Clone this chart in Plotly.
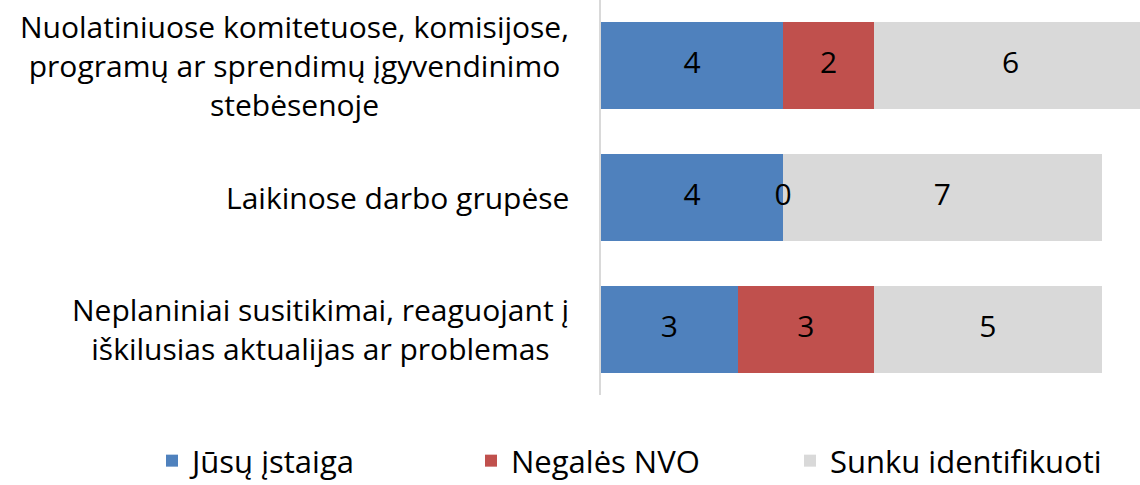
import plotly.graph_objects as go

categories = [
    "Nuolatiniuose komitetuose, komisijose,<br>programų ar sprendimų įgyvendinimo<br>stebėsenoje",
    "Laikinose darbo grupėse",
    "Neplaniniai susitikimai, reaguojant į<br>iškilusias aktualijas ar problemas",
]
series_names = ["Jūsų įstaiga", "Negalės NVO", "Sunku identifikuoti"]
jusu_istaiga = [4, 4, 3]
negales_nvo = [2, 0, 3]
sunku_identifikuoti = [6, 7, 5]
colors = ["#4F81BD", "#C0504D", "#D9D9D9"]

FONT = "Open Sans"
FS = 30

series_values = [jusu_istaiga, negales_nvo, sunku_identifikuoti]

fig = go.Figure()
for name, vals, col in zip(series_names, series_values, colors):
    fig.add_trace(go.Bar(
        name=name, y=categories, x=vals, orientation="h",
        marker=dict(color=col, line=dict(width=0)),
        hoverinfo="x+name",
    ))

# value labels at the centre of each stacked segment
base = [0] * len(categories)
for vals in series_values:
    centres = [b + v / 2 for b, v in zip(base, vals)]
    fig.add_trace(go.Scatter(
        x=centres, y=categories, mode="text", text=[str(v) for v in vals],
        textfont=dict(family=FONT, size=FS, color="black"),
        showlegend=False, hoverinfo="skip", cliponaxis=False,
    ))
    base = [b + v for b, v in zip(base, vals)]

# category labels, centred line by line, right edge next to the axis
for cat in categories:
    fig.add_annotation(
        x=0, xref="paper", y=cat, yref="y", text=cat, showarrow=False,
        xanchor="right", align="center", xshift=-30,
        font=dict(family=FONT, size=FS, color="black"),
    )

PLOT_H = 395  # pixel height of the plotting area
fig.update_layout(
    width=1140, height=485,
    margin=dict(l=601, r=0, t=0, b=90, autoexpand=False),
    barmode="stack", bargap=0.34,
    plot_bgcolor="white", paper_bgcolor="white",
    font=dict(family=FONT, size=FS, color="black"),
    showlegend=True,
    legend=dict(
        orientation="h", x=(152 - 601) / 539, xanchor="left",
        y=-(485 - PLOT_H + 3) / PLOT_H, yanchor="bottom",
        font=dict(family=FONT, size=31, color="black"),
        traceorder="normal", entrywidth=274, entrywidthmode="pixels",
        borderwidth=0,
    ),
    xaxis=dict(range=[0, 11.846], visible=False, fixedrange=True),
    yaxis=dict(
        autorange="reversed", showticklabels=False, ticks="",
        showline=True, linecolor="#D9D9D9", linewidth=2, showgrid=False,
        zeroline=False, fixedrange=True,
    ),
)

fig.write_html("out.html")
